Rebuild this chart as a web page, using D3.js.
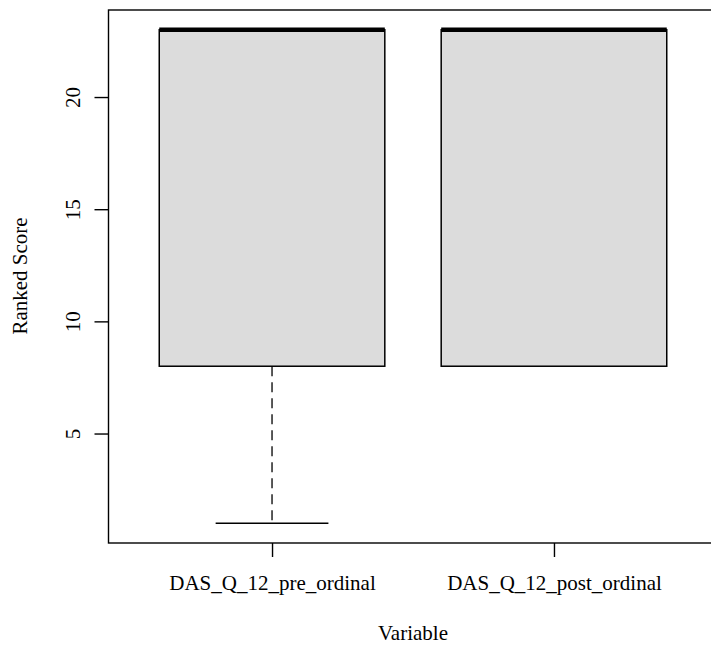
<!DOCTYPE html>
<html>
<head>
<meta charset="utf-8">
<script src="https://cdn.jsdelivr.net/npm/d3@7"></script>
<style>
  body { margin: 0; background: #fff; }
  svg text { font-family: "Liberation Serif", "Times New Roman", Times, "DejaVu Serif", serif !important; fill: #000; }
</style>
</head>
<body>
<svg id="chart" width="711" height="645"></svg>
<script>
// box stats
const variables = ["DAS_Q_12_pre_ordinal", "DAS_Q_12_post_ordinal"];
const lowWhisker = [1, 8];
const q1         = [8, 8];
const median     = [23, 23];
const q3         = [23, 23];
const highWhisker= [23, 23];
const yTicks     = [5, 10, 15, 20];

const FONT = "'Liberation Serif', 'Times New Roman', Times, serif";
const FS = 21;

const boxes = variables.map((v, i) => ({
  name: v, pos: i + 1,
  lo: lowWhisker[i], q1: q1[i], med: median[i], q3: q3[i], hi: highWhisker[i]
}));

const svg = d3.select("#chart");

// R-style 4% expanded domains
const x = d3.scaleLinear().domain([0.42, 2.58]).range([108.5, 717.5]);
const y = d3.scaleLinear().domain([0.12, 23.88]).range([543, 10]);
const halfW = x(1.4) - x(1);

const G = svg.append("g");

// whiskers (dashed)
G.selectAll("line.wh").data(boxes.filter(d => d.lo < d.q1)).enter().append("line")
  .attr("x1", d => x(d.pos)).attr("x2", d => x(d.pos))
  .attr("y1", d => y(d.q1)).attr("y2", d => y(d.lo))
  .attr("stroke", "#000").attr("stroke-width", 1.3)
  .attr("stroke-dasharray", "10,6");
G.selectAll("line.wh2").data(boxes.filter(d => d.hi > d.q3)).enter().append("line")
  .attr("x1", d => x(d.pos)).attr("x2", d => x(d.pos))
  .attr("y1", d => y(d.q3)).attr("y2", d => y(d.hi))
  .attr("stroke", "#000").attr("stroke-width", 1.3)
  .attr("stroke-dasharray", "10,6");

// whisker caps
G.selectAll("line.cap").data(boxes.filter(d => d.lo < d.q1)).enter().append("line")
  .attr("x1", d => x(d.pos) - halfW / 2).attr("x2", d => x(d.pos) + halfW / 2)
  .attr("y1", d => y(d.lo)).attr("y2", d => y(d.lo))
  .attr("stroke", "#000").attr("stroke-width", 1.5);

// boxes
G.selectAll("rect.box").data(boxes).enter().append("rect")
  .attr("x", d => x(d.pos) - halfW)
  .attr("width", 2 * halfW)
  .attr("y", d => y(d.q3))
  .attr("height", d => y(d.q1) - y(d.q3))
  .attr("fill", "#dcdcdc").attr("stroke", "#000").attr("stroke-width", 1.5);

// medians
G.selectAll("line.med").data(boxes).enter().append("line")
  .attr("x1", d => x(d.pos) - halfW).attr("x2", d => x(d.pos) + halfW)
  .attr("y1", d => y(d.med)).attr("y2", d => y(d.med))
  .attr("stroke", "#000").attr("stroke-width", 4.5);

// plot frame (right side falls off the canvas)
svg.append("rect")
  .attr("x", x.range()[0]).attr("y", y.range()[1])
  .attr("width", x.range()[1] - x.range()[0])
  .attr("height", y.range()[0] - y.range()[1])
  .attr("fill", "none").attr("stroke", "#000").attr("stroke-width", 1.4);

// y axis
const yAx = svg.append("g")
  .attr("transform", `translate(${x.range()[0]},0)`)
  .call(d3.axisLeft(y).tickValues(yTicks).tickSize(14).tickPadding(0))
  .attr("font-family", FONT);
yAx.select(".domain").remove();
yAx.selectAll(".tick line").attr("stroke-width", 1.4);
yAx.selectAll(".tick text")
  .attr("font-size", FS).attr("font-family", FONT)
  .attr("transform", "rotate(-90)")
  .attr("x", 0).attr("y", -36)
  .attr("dy", "0.35em")
  .attr("text-anchor", "middle");

// x axis
const xAx = svg.append("g")
  .attr("transform", `translate(0,${y.range()[0]})`)
  .call(d3.axisBottom(x).tickValues(boxes.map(d => d.pos))
    .tickFormat(i => variables[i - 1]).tickSize(14).tickPadding(0))
  .attr("font-family", FONT);
xAx.select(".domain").remove();
xAx.selectAll(".tick line").attr("stroke-width", 1.4);
xAx.selectAll(".tick text")
  .attr("font-size", FS).attr("font-family", FONT)
  .attr("y", 47).attr("dy", 0);

// axis titles
svg.append("text")
  .attr("x", 413).attr("y", 640)
  .attr("text-anchor", "middle").attr("font-size", FS).attr("font-family", FONT)
  .text("Variable");
svg.append("text")
  .attr("transform", "translate(27,276) rotate(-90)")
  .attr("text-anchor", "middle").attr("font-size", FS).attr("font-family", FONT)
  .text("Ranked Score");
</script>
</body>
</html>
